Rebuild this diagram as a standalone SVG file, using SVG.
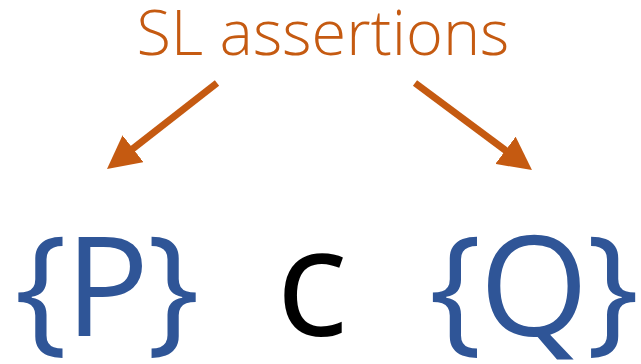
<svg xmlns="http://www.w3.org/2000/svg" width="641" height="364" viewBox="0 0 641 364">
<style>
.lbl{font-family:"Open Sans Light","Lato Light","Open Sans","Noto Sans",sans-serif;fill:#C55A11;font-weight:300;font-size:63px}
.big{font-family:"Open Sans","Noto Sans","DejaVu Sans",sans-serif;fill:#2F5597;font-size:140px;letter-spacing:-2px}
.cmd{font-family:"Open Sans","Noto Sans","DejaVu Sans",sans-serif;fill:#000000;font-size:150px}
.arr{stroke:#C55A11;stroke-width:7;fill:none}
</style>
<defs>
<marker id="ah" markerUnits="userSpaceOnUse" viewBox="0 -17 33 34" refX="8" refY="0" markerWidth="33" markerHeight="34" orient="auto">
<path d="M0,-17 L33,0 L0,17 z" fill="#C55A11"/>
</marker>
</defs>
<g id="label"><text class="lbl" x="323" y="55" text-anchor="middle">SL assertions</text></g>
<g id="connectors">
<line class="arr" x1="217" y1="83" x2="126.7" y2="153.6" marker-end="url(#ah)"/>
<line class="arr" x1="415" y1="83" x2="511.9" y2="155.1" marker-end="url(#ah)"/>
</g>
<g id="pre"><text class="big" x="106" y="336" text-anchor="middle">{P}</text></g>
<g id="cmd"><text class="cmd" x="312" y="336" text-anchor="middle">c</text></g>
<g id="post"><text class="big" x="533" y="336" text-anchor="middle">{Q}</text></g>
</svg>
